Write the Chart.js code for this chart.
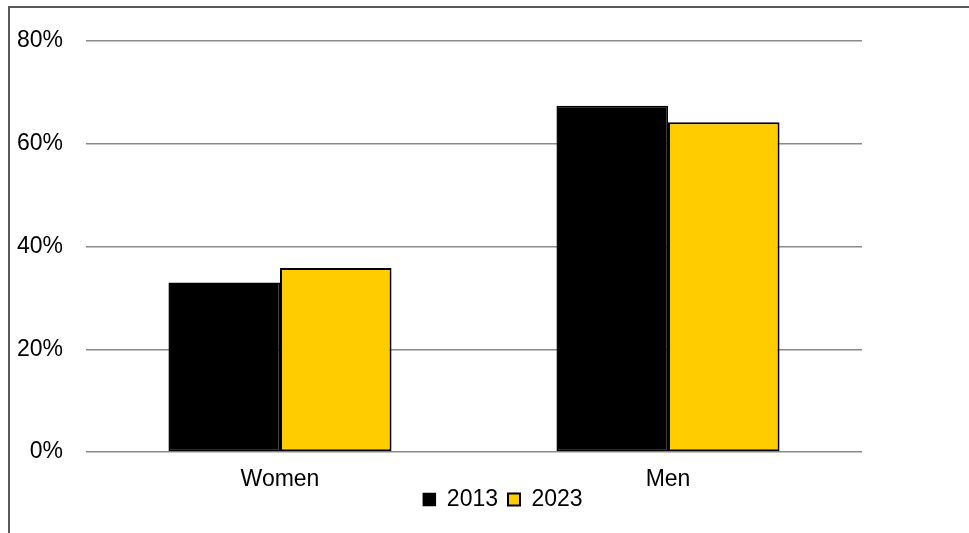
<!DOCTYPE html>
<html>
<head>
<meta charset="utf-8">
<script src="https://cdn.jsdelivr.net/npm/chart.js@4"></script>
<style>
  html, body { margin: 0; padding: 0; background: #fff; }
  #wrap { width: 969px; height: 533px; }
</style>
</head>
<body>
<div id="wrap"><canvas id="chart" width="969" height="533"></canvas></div>
<script>
// カテゴリと系列データ
const categories = ['Women', 'Men'];
const values2013 = [33.0, 67.4];
const values2023 = [35.8, 64.2];
const yTicks = [0, 20, 40, 60, 80];

const FONT = 'Arial, "Liberation Sans", sans-serif';

// 外枠の描画と凡例位置の調整
const framePlugin = {
    id: 'frame',
    beforeDraw(chart) {
        const ctx = chart.ctx;
        ctx.save();
        ctx.fillStyle = '#fff';
        ctx.fillRect(0, 0, chart.width, chart.height);
        ctx.strokeStyle = '#595959';
        ctx.lineWidth = 2;
        ctx.beginPath();
        ctx.moveTo(9, chart.height);
        ctx.lineTo(9, 7);
        ctx.lineTo(chart.width, 7);
        ctx.stroke();
        ctx.restore();
    },
    afterLayout(chart) {
        const lg = chart.legend;
        if (!lg) return;
        lg.left += 72;
        lg.right += 72;
        lg.top -= 12;
        lg.bottom -= 12;
    }
};

const ctx = document.getElementById('chart').getContext('2d');
new Chart(ctx, {
    type: 'bar',
    data: {
        labels: categories,
        datasets: [
            {
                label: '2013',
                data: values2013,
                backgroundColor: '#000000',
                borderColor: '#000000',
                borderWidth: 1.5,
                borderSkipped: false
            },
            {
                label: '2023',
                data: values2023,
                backgroundColor: '#FFCC00',
                borderColor: '#000000',
                borderWidth: 2,
                borderSkipped: false
            }
        ]
    },
    options: {
        responsive: false,
        animation: false,
        layout: {
            padding: { top: 41, left: 0, right: 107, bottom: 0 }
        },
        datasets: {
            bar: { barPercentage: 1, categoryPercentage: 0.575 }
        },
        scales: {
            x: {
                grid: { display: false, drawTicks: false },
                border: { display: false },
                ticks: {
                    color: '#000',
                    padding: 14,
                    font: { family: FONT, size: 23 }
                },
                afterFit(scale) { scale.height = 38; }
            },
            y: {
                min: 0,
                max: 80,
                grid: { color: '#8a8a8a', lineWidth: 1.5, drawTicks: false },
                border: { display: false },
                ticks: {
                    stepSize: 20,
                    color: '#000',
                    padding: 23,
                    font: { family: FONT, size: 23 },
                    callback: v => (yTicks.includes(v) ? v + '%' : '')
                },
                afterFit(scale) { scale.width = 86; }
            }
        },
        plugins: {
            legend: {
                position: 'bottom',
                labels: {
                    boxWidth: 12,
                    boxHeight: 12,
                    padding: 10,
                    color: '#000',
                    font: { family: FONT, size: 23 }
                }
            },
            tooltip: { enabled: false }
        }
    },
    plugins: [framePlugin]
});
</script>
</body>
</html>
